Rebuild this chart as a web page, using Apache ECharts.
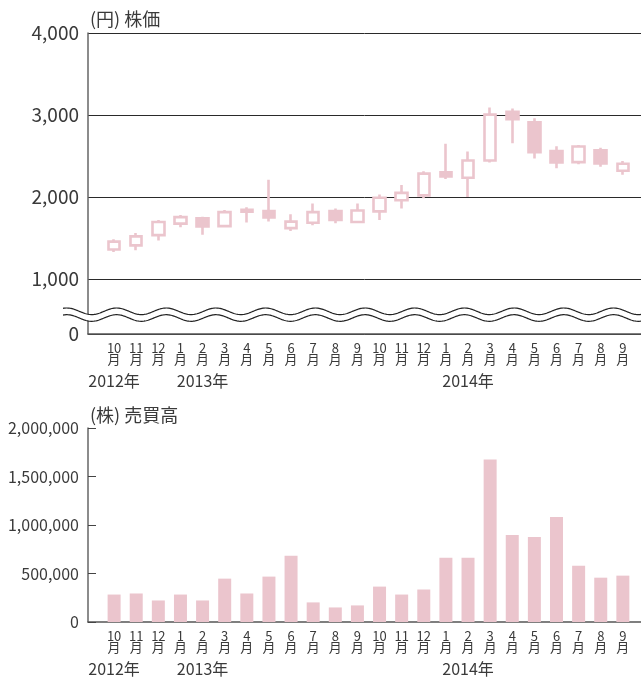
<!DOCTYPE html>
<html><head><meta charset="utf-8">
<script src="https://cdn.jsdelivr.net/npm/echarts@6/dist/echarts.min.js"></script>
<style>html,body{margin:0;padding:0;background:#fff}#c{width:641px;height:677px}</style>
</head><body><div id="c"></div>
<script>
// ---- data ----
const months = ['10','11','12','1','2','3','4','5','6','7','8','9','10','11','12','1','2','3','4','5','6','7','8','9'];
const yearAt = [0, 4, 16];
const yearText = ['2012年', '2013年', '2014年'];
const priceOpen  = [1360,1410,1535,1675,1740,1645,1845,1830,1620,1685,1830,1695,1825,1960,2020,2300,2235,2445,3040,2910,2560,2425,2570,2320];
const priceClose = [1455,1520,1695,1755,1640,1815,1820,1750,1700,1815,1720,1835,1990,2050,2285,2250,2445,3005,2950,2545,2420,2615,2410,2405];
const priceLow   = [1330,1350,1470,1630,1540,1640,1690,1700,1585,1655,1680,1690,1720,1860,1985,2220,2000,2420,2655,2470,2350,2400,2370,2270];
const priceHigh  = [1485,1560,1720,1780,1760,1840,1875,2210,1790,1920,1860,1920,2030,2145,2315,2650,2555,3090,3080,2960,2620,2635,2600,2440];
const volume     = [283000,294000,222000,283000,222000,447000,294000,468000,683000,202000,150000,171000,365000,283000,335000,662000,662000,1676000,898000,877000,1082000,580000,457000,478000];
const priceTicks = [0,1000,2000,3000,4000];
const volumeTicks = [0,500000,1000000,1500000,2000000];
const priceTitle = '(円) 株価';
const volumeTitle = '(株) 売買高';

// ---- layout / style ----
const PINK = '#ebc5cd';
const TEXT = '#3a3a3a';
const FONT = '"Noto Sans CJK JP", "Noto Sans", sans-serif';
const PRICE_AXIS_BOTTOM = 329;   // value shown as "0" (broken axis)
const X_MIN = -1.18, X_MAX = 23.82;

const idx = months.map((m, i) => i);
const candleData = idx.map(i => [i, priceOpen[i], priceClose[i], priceLow[i], priceHigh[i]]);
const volumeData = idx.map(i => [i, volume[i]]);
const priceAxisValues = priceTicks.map(v => v === 0 ? PRICE_AXIS_BOTTOM : v);

function fmt(v) { return String(v).replace(/\B(?=(\d{3})+(?!\d))/g, ','); }

function monthAxis(g) {
  return {
    gridIndex: g, type: 'value', min: X_MIN, max: X_MAX,
    axisLine: { show: true, onZero: false, lineStyle: { color: '#555', width: 1.5 } },
    axisTick: { show: false },
    splitLine: { show: false },
    axisLabel: {
      customValues: idx, margin: 9, color: TEXT, fontFamily: FONT, hideOverlap: false,
      showMinLabel: true, showMaxLabel: true,
      formatter: v => '{m|' + months[Math.round(v)] + '}\n{m|月}',
      rich: { m: { fontSize: 13, lineHeight: 11, color: TEXT, fontFamily: FONT } }
    }
  };
}
function yearAxis(g) {
  return {
    gridIndex: g, type: 'value', min: X_MIN, max: X_MAX, position: 'bottom',
    axisLine: { show: false }, axisTick: { show: false }, splitLine: { show: false },
    axisLabel: {
      customValues: yearAt, margin: 39, fontSize: 16, lineHeight: 16, color: TEXT, fontFamily: FONT,
      showMinLabel: true, showMaxLabel: true,
      formatter: v => yearText[yearAt.indexOf(Math.round(v))]
    }
  };
}

// wavy break lines (decoration)
function wave(cy, x0, x1) {
  const pts = [];
  for (let x = x0; x <= x1; x += 1) {
    pts.push([x, cy + 3.3 * Math.cos(2 * Math.PI * (x - 91.7) / 49.7)]);
  }
  return pts;
}
const upper = wave(311.3, 63, 641);
const lower = wave(318.0, 63, 641);

const chart = echarts.init(document.getElementById('c'), null, { renderer: 'canvas' });
chart.setOption({
  animation: false,
  backgroundColor: '#fff',
  textStyle: { fontFamily: FONT, color: TEXT },
  title: [
    { text: priceTitle, left: 85, top: 5, textStyle: { fontSize: 18, fontWeight: 'normal', color: TEXT, fontFamily: FONT } },
    { text: volumeTitle, left: 85, top: 401, textStyle: { fontSize: 18, fontWeight: 'normal', color: TEXT, fontFamily: FONT } }
  ],
  grid: [
    { left: 88, right: 0, top: 33, bottom: 677 - 334 },
    { left: 88, right: 0, top: 428, bottom: 677 - 624 }
  ],
  xAxis: [monthAxis(0), monthAxis(1), yearAxis(0), yearAxis(1)],
  yAxis: [
    {
      gridIndex: 0, type: 'value', min: PRICE_AXIS_BOTTOM, max: 4000,
      axisLine: { show: true, onZero: false, lineStyle: { color: '#666', width: 1.5 } },
      axisTick: { show: false, customValues: priceAxisValues },
      splitLine: { show: true, lineStyle: { color: '#2a2a2a', width: 1 } },
      axisLabel: {
        customValues: priceAxisValues, margin: 9, fontSize: 19, color: TEXT, fontFamily: FONT,
        formatter: v => v < 1000 ? '0' : fmt(v)
      }
    },
    {
      gridIndex: 1, type: 'value', min: 0, max: 2000000, interval: 500000,
      axisLine: { show: true, onZero: false, lineStyle: { color: '#666', width: 1.5 } },
      axisTick: { show: true, inside: true, length: 8, lineStyle: { color: '#444', width: 1 } },
      splitLine: { show: false },
      axisLabel: { margin: 9, fontSize: 16, color: TEXT, fontFamily: FONT, formatter: v => fmt(v) }
    }
  ],
  series: [
    {
      type: 'candlestick', xAxisIndex: 0, yAxisIndex: 0,
      data: candleData, encode: { x: 0, y: [1, 2, 3, 4] },
      barWidth: 12,
      itemStyle: { color: '#fff', color0: PINK, borderColor: PINK, borderColor0: PINK, borderColorDoji: PINK, borderWidth: 2.6 }
    },
    {
      type: 'bar', xAxisIndex: 1, yAxisIndex: 1,
      data: volumeData, barWidth: 13,
      itemStyle: { color: PINK }
    }
  ],
  graphic: [
    { type: 'polygon', z: 100, silent: true, shape: { points: upper.concat(lower.slice().reverse()) }, style: { fill: '#fff', stroke: null } },
    { type: 'polyline', z: 101, silent: true, shape: { points: upper }, style: { stroke: '#222', lineWidth: 1.2, fill: null } },
    { type: 'polyline', z: 101, silent: true, shape: { points: lower }, style: { stroke: '#222', lineWidth: 1.2, fill: null } }
  ]
});
</script>
</body></html>
